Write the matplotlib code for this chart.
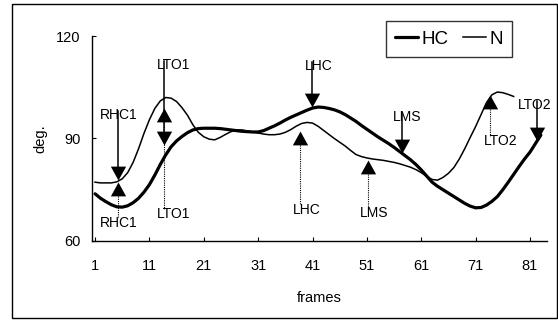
import numpy as np
import matplotlib.pyplot as plt
from matplotlib.patches import Rectangle

plt.rcParams['font.family'] = ['Liberation Sans', 'DejaVu Sans']

# 曲线数据 (frame, deg)
hc_frames = list(range(1, 84))
hc_deg = [73.8, 72.5, 71.5, 70.6, 70.0, 69.9, 70.3, 71.2, 72.5, 74.3,
          76.5, 79.3, 82.4, 85.2, 87.6, 89.3, 90.6, 91.7, 92.5, 92.9,
          93.0, 93.0, 93.0, 92.9, 92.7, 92.5, 92.3, 92.1, 92.0, 91.9,
          91.9, 92.3, 93.0, 93.7, 94.5, 95.4, 96.2, 96.9, 97.6, 98.3,
          98.9, 99.2, 99.1, 98.8, 98.4, 97.8, 97.0, 96.0, 95.0, 93.8,
          92.7, 91.6, 90.5, 89.5, 88.5, 87.4, 86.2, 85.0, 83.8, 82.4,
          80.8, 79.0, 77.2, 76.0, 75.0, 74.0, 73.0, 72.0, 71.0, 70.2,
          69.7, 69.8, 70.5, 71.6, 73.0, 75.0, 77.2, 79.5, 81.8, 84.0,
          86.0, 88.5, 91.0]

n_frames = list(range(1, 79))
n_deg = [77.2, 77.0, 77.0, 77.0, 77.3, 78.2, 80.0, 83.0, 87.0, 91.5,
         95.5, 98.8, 101.0, 102.0, 101.8, 100.8, 99.0, 96.8, 94.0, 91.8,
         90.5, 89.8, 89.6, 90.3, 91.2, 92.0, 92.5, 92.5, 92.2, 91.9,
         91.6, 91.3, 91.1, 91.1, 91.3, 91.8, 92.6, 93.6, 94.4, 94.7,
         94.5, 93.6, 92.4, 91.2, 90.0, 88.9, 87.8, 86.5, 85.3, 84.7,
         84.3, 84.0, 83.8, 83.6, 83.3, 83.0, 82.6, 82.1, 81.6, 80.9,
         80.0, 78.9, 78.0, 77.8, 78.6, 79.8, 81.5, 84.0, 87.0, 90.3,
         93.5, 97.0, 100.5, 102.8, 103.6, 103.4, 102.9, 102.3]

# HC 事件: 实线 + 向下箭头 (标签在上)
hc_events = ['RHC1', 'LTO1', 'LHC', 'LMS', 'LTO2']
hc_ev_frame = [5.2, 13.7, 40.9, 57.4, 82.2]
hc_ev_tip = [77.8, 88.0, 99.3, 85.7, 89.3]
hc_lab_frame = [5.3, 15.4, 42.1, 58.4, 81.9]
hc_lab_deg = [96.8, 111.5, 111.2, 96.3, 99.8]

# N 事件: 虚线 + 向上箭头 (标签在下)
n_events = ['RHC1', 'LTO1', 'LHC', 'LMS', 'LTO2']
n_ev_frame = [5.2, 13.7, 38.7, 51.2, 73.6]
n_ev_tip = [77.3, 98.9, 92.2, 83.7, 102.7]
n_lab_frame = [5.3, 15.4, 40.0, 52.3, 75.7]
n_lab_deg = [65.3, 67.9, 69.0, 68.2, 89.2]

xticks = [1, 11, 21, 31, 41, 51, 61, 71, 81]
yticks = [60, 90, 120]

down_tri = [(0, 0), (-0.55, 1.0), (0.55, 1.0), (0, 0)]
up_tri = [(0, 0), (-0.55, -1.0), (0.55, -1.0), (0, 0)]
tri_h = 4.0  # 三角形高度 (deg)

fig = plt.figure(figsize=(5.58, 3.2), dpi=100)
ax = fig.add_axes([0.165, 0.247, 0.815, 0.6405])

ax.plot(hc_frames, hc_deg, color='black', lw=2.3, label='HC', solid_capstyle='round')
ax.plot(n_frames, n_deg, color='black', lw=1.1, label='N')

for name, f, tip, lf, ld in zip(hc_events, hc_ev_frame, hc_ev_tip, hc_lab_frame, hc_lab_deg):
    ax.plot([f, f], [ld + 1.3, tip + 1], color='black', lw=1.1)
    ax.plot(f, tip, marker=down_tri, ms=20, color='black', mew=0)
    ax.text(lf, ld, name, ha='center', va='center', fontsize=10)

for name, f, tip, lf, ld in zip(n_events, n_ev_frame, n_ev_tip, n_lab_frame, n_lab_deg):
    ax.plot([f, f], [tip - tri_h, ld + 1.6], color='black', lw=0.8, ls=(0, (1, 1)))
    ax.plot(f, tip, marker=up_tri, ms=20, color='black', mew=0)
    ax.text(lf, ld, name, ha='center', va='center', fontsize=10)

ax.set_xlim(0.45, 84.1)
ax.set_ylim(60, 120)
ax.set_xticks(xticks)
ax.set_yticks(yticks)
ax.spines['top'].set_visible(False)
ax.spines['right'].set_visible(False)
for s in ['left', 'bottom']:
    ax.spines[s].set_linewidth(1.0)
ax.tick_params(axis='x', direction='in', length=3, labelsize=10.5, pad=13)
ax.tick_params(axis='y', direction='in', length=3, labelsize=10.5, pad=8.5)
ax.set_xlabel('frames', fontsize=10.5, labelpad=13)
ax.set_ylabel('deg.', fontsize=10.5, labelpad=6)

leg = ax.legend(loc='upper right', bbox_to_anchor=(0.945, 1.117), ncol=2,
                fontsize=13.5, handlelength=1.2, handletextpad=0.2,
                columnspacing=0.8, frameon=True, fancybox=False,
                borderpad=0.5)
leg.get_frame().set_edgecolor('black')
leg.get_frame().set_linewidth(1.0)

# 外框
fig.patches.append(Rectangle((0.0215, 0.006), 0.9765, 0.9815, transform=fig.transFigure,
                             fill=False, edgecolor='black', lw=1.0))

plt.savefig('out.png', dpi=100)
